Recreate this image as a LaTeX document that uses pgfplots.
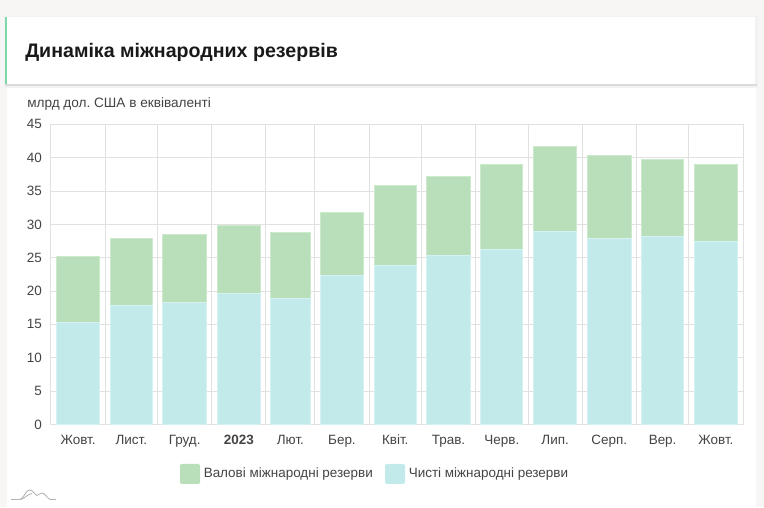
\documentclass[border=0pt]{standalone}
\usepackage{fontspec}
\setmainfont{Liberation Sans}
\usepackage{pgfplots}
\pgfplotsset{compat=1.18}
\definecolor{pagebg}{HTML}{F7F6F4}
\definecolor{gridc}{HTML}{E1E1E1}
\definecolor{grossf}{HTML}{B8DFBA}
\definecolor{grossd}{HTML}{CDE9CE}
\definecolor{netf}{HTML}{C3EAEA}
\definecolor{netd}{HTML}{D6F1F1}
\definecolor{txt}{HTML}{444444}
\definecolor{accent}{HTML}{7FD8A8}
% x = days since 1 Oct 2022, centre of each month; bar widths follow month length
\newcommand{\px}{0.75pt}
\begin{document}
\frenchspacing
\begin{tikzpicture}[x=\px,y=\px]
\fill[pagebg] (0,0) rectangle (764,507);
\fill[white] (7,0) rectangle (755.5,421);
\fill[black!5] (4,419) rectangle (758,491);
\fill[black!14] (5,421) rectangle (757,423);
\fill[white] (6,423) rectangle (755,490);
\fill[accent] (5,423) rectangle (7,490);
\node[anchor=base west,inner sep=0pt,font=\fontsize{14.7pt}{18pt}\selectfont\bfseries,text=black!90] at (25,449) {Динаміка міжнародних резервів};
\node[anchor=base west,inner sep=0pt,font=\fontsize{10.2pt}{12pt}\selectfont,text=txt] at (27,399) {млрд дол. США в еквіваленті};
\begin{axis}[
  at={(51*\px,82.6*\px)},anchor=south west,
  scale only axis,width=692*\px,height=300*\px,
  xmin=0,xmax=396,ymin=0,ymax=45,
  ybar,bar shift=0pt,
  axis line style={gridc,line width=0.75pt},
  grid style={gridc,line width=0.75pt},
  ymajorgrids,
  minor grid style={gridc,line width=0.75pt},
  xminorgrids,
  minor xtick={31,61,92,123,151,182,212,243,273,304,335,365},
  ytick={0,5,...,45},
  xtick={15.5,46,76.5,107.5,137,166.5,197,227.5,258,288.5,319.5,350,380.5},
  xticklabels={Жовт.,Лист.,Груд.,\textbf{2023},Лют.,Бер.,Квіт.,Трав.,Черв.,Лип.,Серп.,Вер.,Жовт.},
  major tick length=0pt,minor tick length=0pt,
  tick style={draw=none},
  /pgf/number format/assume math mode=true,
  ticklabel style={font=\fontsize{10.1pt}{12pt}\selectfont,text=txt},
  yticklabel style={xshift=-4.5*\px},
  xticklabel style={yshift=-4.5*\px,text height=8pt,text depth=0pt},
  clip=false,
]
\addplot[fill=grossf,draw=grossd,line width=0.75pt,bar width=25] coordinates {(15.5,25.2)(76.5,28.5)(107.5,29.9)(166.5,31.85)(227.5,37.25)(288.5,41.7)(319.5,40.35)(380.5,38.95)};
\addplot[fill=grossf,draw=grossd,line width=0.75pt,bar width=24.2] coordinates {(46,27.9)(197,35.9)(258,39.0)(350,39.7)};
\addplot[fill=grossf,draw=grossd,line width=0.75pt,bar width=22.6] coordinates {(137,28.8)};
\addplot[fill=netf,draw=netd,line width=0.75pt,bar width=25] coordinates {(15.5,15.3)(76.5,18.3)(107.5,19.7)(166.5,22.4)(227.5,25.35)(288.5,28.95)(319.5,27.85)(380.5,27.5)};
\addplot[fill=netf,draw=netd,line width=0.75pt,bar width=24.2] coordinates {(46,17.8)(197,23.9)(258,26.3)(350,28.2)};
\addplot[fill=netf,draw=netd,line width=0.75pt,bar width=22.6] coordinates {(137,18.9)};
\end{axis}
% legend
\fill[grossf,rounded corners=1.5pt] (180,23) rectangle (200,43);
\node[anchor=base west,inner sep=0pt,font=\fontsize{10.1pt}{12pt}\selectfont,text=txt] at (203.5,29) {Валові міжнародні резерви};
\fill[netf,rounded corners=1.5pt] (385,23) rectangle (405,43);
\node[anchor=base west,inner sep=0pt,font=\fontsize{10.1pt}{12pt}\selectfont,text=txt] at (408.5,29) {Чисті міжнародні резерви};
% logo mark
\draw[black!30,line width=0.6pt] (11,7.5) -- (20,7.5) .. controls (24,9) and (26,17) .. (29.5,17) .. controls (33,17) and (35,12) .. (37,11.5) .. controls (39,12) and (40,14) .. (42,14) .. controls (45,14) and (47,9) .. (50,7.5) -- (56,7.5);
\draw[black!30,line width=0.6pt] (21,7.5) .. controls (25,9) and (28,13) .. (32,13.5);
\end{tikzpicture}
\end{document}
